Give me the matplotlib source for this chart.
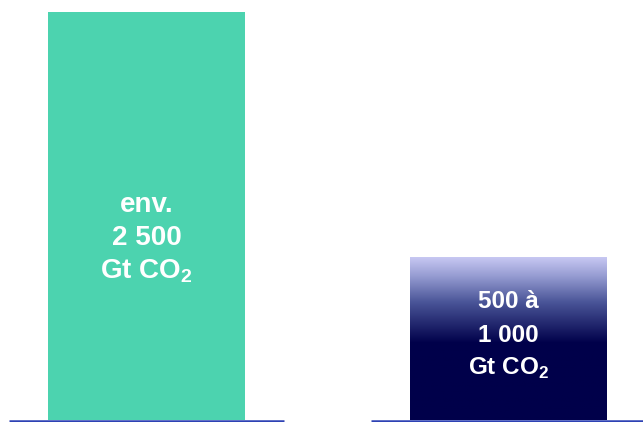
import numpy as np
import matplotlib.pyplot as plt
from matplotlib.colors import LinearSegmentedColormap

plt.rcParams['font.family'] = ['Liberation Sans', 'DejaVu Sans']
plt.rcParams['mathtext.fontset'] = 'custom'
plt.rcParams['mathtext.rm'] = 'Liberation Sans:bold'

# Budgets carbone (Gt CO2)
categories = ['Total', 'Restant']
values = [2500, 1000]
labels = [['env.', '2 500', r'Gt CO$_{\mathrm{2}}$'],
          ['500 à', '1 000', r'Gt CO$_{\mathrm{2}}$']]
label_sizes = [20, 17.5]

fig = plt.figure(figsize=(6.43, 4.22), dpi=100)
ax = fig.add_axes([0, 2 / 422, 1, 408 / 422])

x = np.arange(len(categories))
width = 0.544
bars = ax.bar(x, values, width=width, color=['#4CD3AF', 'none'], zorder=2)

# dégradé lavande -> bleu nuit pour la seconde barre
grad = LinearSegmentedColormap.from_list(
    'nuit', [(0.0, '#00004A'), (0.47, '#00004A'), (0.72, '#4A5598'),
             (0.88, '#969CD2'), (1.0, '#CACAF4')])
b = bars[1]
img = ax.imshow(np.linspace(0, 1, 256).reshape(-1, 1), cmap=grad, origin='lower',
                aspect='auto', zorder=2,
                extent=[b.get_x(), b.get_x() + b.get_width(), 0, b.get_height()])
img.set_clip_path(b)

# lignes de base sous chaque barre
for xi in x:
    ax.plot([xi - 0.38, xi + 0.38 if xi == 0 else xi + 1.0], [-6, -6],
            color='#2E42B4', lw=1.8, zorder=3, solid_capstyle='butt', clip_on=False)

# libellés au centre des barres
centers = [0.446, 0.52]
for xi, v, lines, fs, c in zip(x, values, labels, label_sizes, centers):
    for k, line in enumerate(lines):
        ax.annotate(line, (xi, v * c), xytext=(0, (1 - k) * 24), textcoords='offset points',
                    ha='center', va='center', color='white', fontsize=fs,
                    fontweight='bold', zorder=4)

ax.set_xlim(-0.4047, 1.3715)
ax.set_ylim(0, 2500)
ax.axis('off')

fig.savefig('out.png', dpi=100)
